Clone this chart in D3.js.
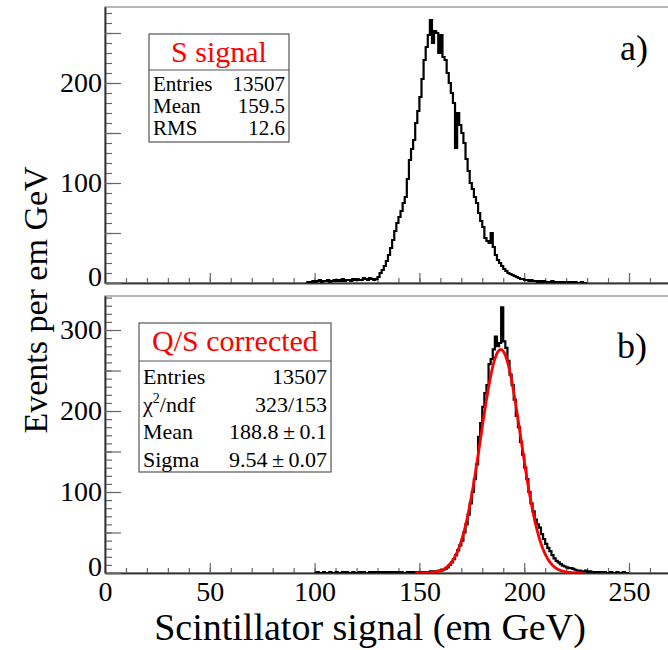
<!DOCTYPE html>
<html>
<head>
<meta charset="utf-8">
<script src="https://cdn.jsdelivr.net/npm/d3@7/dist/d3.min.js"></script>
<style>
  body { margin: 0; background: #fff; }
  svg { font-family: "Liberation Serif", "Times New Roman", serif; }
</style>
</head>
<body>
<svg id="chart" width="668" height="650"></svg>
<script>
// histogram a): S signal, 1 GeV bins starting at topStart
const topStart = 96;
const topCounts = [
  1, 0, 1, 2,
  1, 2, 3, 1, 2, 2, 3, 1, 2, 3,
  2, 3, 2, 4, 2, 3, 3, 2, 4, 3,
  4, 3, 3, 5, 4, 3, 5, 4, 3, 4,
  6, 10, 13, 17, 22, 28, 35, 43, 52, 60,
  66, 72, 80, 86, 104, 123, 134, 143, 160, 172,
  186, 204, 223, 236, 248, 263, 240, 252, 250, 230,
  248, 226, 223, 210, 200, 190, 180, 135, 170, 158,
  150, 140, 124, 112, 100, 94, 86, 80, 70, 62,
  56, 45, 42, 40, 50, 36, 28, 23, 20, 17,
  14, 12, 10, 9, 8, 7, 6, 5, 4, 4,
  3, 3, 2, 3, 2, 2, 1, 2, 1, 2,
  1, 1, 1, 2, 1, 0, 1, 1, 0, 1,
  0, 1, 1, 0, 1, 0, 0, 1, 0, 0
];

// histogram b): Q/S corrected, 1 GeV bins starting at botStart
const botStart = 100;
const botCounts = [
  0, 1, 0, 0, 1, 0, 0, 1, 0, 0,
  1, 0, 0, 1, 0, 1, 0, 0, 1, 0,
  0, 1, 0, 1, 0, 0, 1, 1, 0, 1,
  0, 1, 1, 0, 1, 0, 1, 1, 0, 1,
  0, 1, 0, 0, 1, 0, 1, 0, 1, 1,
  0, 1, 1, 0, 1, 2, 1, 2, 2, 3,
  3, 4, 5, 7, 10, 13, 17, 22, 28, 34,
  40, 50, 60, 72, 86, 100, 116, 134, 168, 185,
  205, 222, 232, 258, 264, 276, 292, 280, 284, 328,
  286, 278, 262, 245, 232, 214, 194, 180, 162, 146,
  130, 116, 100, 86, 76, 66, 60, 56, 48, 42,
  36, 31, 27, 22, 18, 15, 13, 11, 9, 8,
  7, 6, 6, 5, 4, 3, 3, 2, 2, 3,
  1, 2, 1, 1, 0, 1, 1, 0, 1, 0,
  0, 1, 0, 0, 1, 0, 0, 1, 0, 0
];

// gaussian fit drawn over b)
const fitMean = 188.8;
const fitSigma = 9.54;
const fitAmp = 276;
const fitFrom = 148;
const fitTo = 228;

const xTickLabels = [0, 50, 100, 150, 200, 250];
const topStats = [["Entries", "13507"], ["Mean", "159.5"], ["RMS", "12.6"]];
const botStats = [["Entries", "13507"], ["chi", "323/153"], ["Mean", "188.8\u2009\u00b1\u20090.1"], ["Sigma", "9.54\u2009\u00b1\u20090.07"]];

const svg = d3.select("#chart");
const x = d3.scaleLinear().domain([0, 280]).range([105, 105 + 280 * 2.096]);

function drawPanel(opts) {
  const y = d3.scaleLinear().domain([0, opts.yMax]).range([opts.bottom, opts.top]);
  const g = svg.append("g");
  const clipId = "clip" + opts.name;

  svg.append("clipPath").attr("id", clipId)
    .append("rect")
    .attr("x", x.range()[0]).attr("y", opts.top)
    .attr("width", x.range()[1] - x.range()[0]).attr("height", opts.bottom - opts.top);

  // frame
  g.append("rect")
    .attr("x", x.range()[0]).attr("y", opts.top)
    .attr("width", x.range()[1] - x.range()[0]).attr("height", opts.bottom - opts.top)
    .attr("fill", "none").attr("stroke", "#888").attr("stroke-width", 1.2);

  // x ticks (inside, pointing up)
  const xMinor = d3.axisBottom(x).tickValues(d3.range(0, 281, 10)).tickSizeInner(-5).tickSizeOuter(0).tickFormat("");
  const xMajor = d3.axisBottom(x).tickValues(xTickLabels).tickSizeInner(-10).tickSizeOuter(0).tickPadding(8)
    .tickFormat(opts.labels ? d3.format("d") : "");
  g.append("g").attr("transform", `translate(0,${opts.bottom})`).call(xMinor);
  const gx = g.append("g").attr("transform", `translate(0,${opts.bottom})`).call(xMajor);
  gx.selectAll("text").attr("font-size", 28).attr("fill", "#000").attr("font-family", "Liberation Serif");

  // y ticks (inside, pointing right)
  const yMinor = d3.axisLeft(y).tickValues(d3.range(0, opts.yMax, 10)).tickSizeInner(-7).tickSizeOuter(0).tickFormat("");
  const yMajor = d3.axisLeft(y).tickValues(d3.range(0, opts.yMax, 50)).tickSizeInner(-16).tickSizeOuter(0).tickPadding(3)
    .tickFormat(d => d % 100 === 0 ? d : "");
  g.append("g").attr("transform", `translate(${x.range()[0]},0)`).call(yMinor);
  const gy = g.append("g").attr("transform", `translate(${x.range()[0]},0)`).call(yMajor);
  gy.selectAll("text").attr("font-size", 28).attr("fill", "#000").attr("font-family", "Liberation Serif")
    .attr("dy", d => d === 0 ? "0.1em" : "0.32em");

  g.selectAll(".domain").attr("stroke", "#333").attr("stroke-width", 1.5);
  g.selectAll(".tick line").attr("stroke", "#666").attr("stroke-width", 1.2);

  // histogram outline
  const pts = opts.counts.map((c, i) => [opts.start + i, c]);
  pts.push([opts.start + opts.counts.length, opts.counts[opts.counts.length - 1]]);
  const line = d3.line().x(d => x(d[0])).y(d => y(d[1])).curve(d3.curveStepAfter);
  g.append("path")
    .attr("clip-path", `url(#${clipId})`)
    .attr("d", line(pts))
    .attr("fill", "none").attr("stroke", "#000").attr("stroke-width", 2.2);

  if (opts.fit) {
    const fx = d3.range(fitFrom, fitTo + 0.01, 0.25);
    const fitLine = d3.line()
      .x(v => x(v))
      .y(v => y(fitAmp * Math.exp(-0.5 * Math.pow((v - fitMean) / fitSigma, 2))))
      .curve(d3.curveBasis);
    g.append("path")
      .attr("clip-path", `url(#${clipId})`)
      .attr("d", fitLine(fx))
      .attr("fill", "none").attr("stroke", "#f00").attr("stroke-width", 2.8);
  }

  // panel tag
  g.append("text")
    .attr("x", opts.tagX).attr("y", opts.tagY)
    .attr("font-size", 36).attr("fill", "#000")
    .text(opts.tag);

  // stats box
  const b = opts.box;
  g.append("rect")
    .attr("x", b.x0).attr("y", b.y0).attr("width", b.x1 - b.x0).attr("height", b.y1 - b.y0)
    .attr("fill", "#fff").attr("stroke", "#555").attr("stroke-width", 1.2);
  g.append("line")
    .attr("x1", b.x0).attr("x2", b.x1).attr("y1", b.ySep).attr("y2", b.ySep)
    .attr("stroke", "#555").attr("stroke-width", 1.2);
  g.append("text")
    .attr("x", (b.x0 + b.x1) / 2).attr("y", b.titleY)
    .attr("text-anchor", "middle").attr("font-size", 30).attr("fill", "#f00")
    .text(opts.title);

  opts.stats.forEach((s, i) => {
    const ty = b.rowY + i * b.rowH;
    const lab = g.append("text").attr("x", b.x0 + 4).attr("y", ty).attr("font-size", b.fs).attr("fill", "#000");
    if (s[0] === "chi") {
      lab.append("tspan").text("\u03c7");
      lab.append("tspan").attr("font-size", 14).attr("dy", -9).text("2");
      lab.append("tspan").attr("dy", 9).text("/ndf");
    } else {
      lab.text(s[0]);
    }
    g.append("text").attr("x", b.x1 - 4).attr("y", ty)
      .attr("text-anchor", "end").attr("font-size", b.fs).attr("fill", "#000")
      .text(s[1]);
  });
}

drawPanel({
  name: "a", top: 7, bottom: 283, yMax: 276, start: topStart, counts: topCounts,
  labels: false, fit: false, tag: "a)", tagX: 620, tagY: 60,
  title: "S signal", stats: topStats,
  box: { x0: 149, x1: 289, y0: 34, ySep: 70, y1: 142, titleY: 62, rowY: 91, rowH: 22, fs: 21 }
});

drawPanel({
  name: "b", top: 296, bottom: 573, yMax: 342, start: botStart, counts: botCounts,
  labels: true, fit: true, tag: "b)", tagX: 617, tagY: 358,
  title: "Q/S corrected", stats: botStats,
  box: { x0: 139, x1: 331, y0: 323, ySep: 361, y1: 472, titleY: 351, rowY: 384, rowH: 27.5, fs: 22 }
});

// axis titles
svg.append("text")
  .attr("transform", "translate(47,300) rotate(-90)")
  .attr("text-anchor", "middle").attr("font-size", 34).attr("fill", "#000")
  .text("Events per em GeV");

svg.append("text")
  .attr("x", 370).attr("y", 640)
  .attr("text-anchor", "middle").attr("font-size", 38).attr("fill", "#000")
  .text("Scintillator signal (em GeV)");
</script>
</body>
</html>
